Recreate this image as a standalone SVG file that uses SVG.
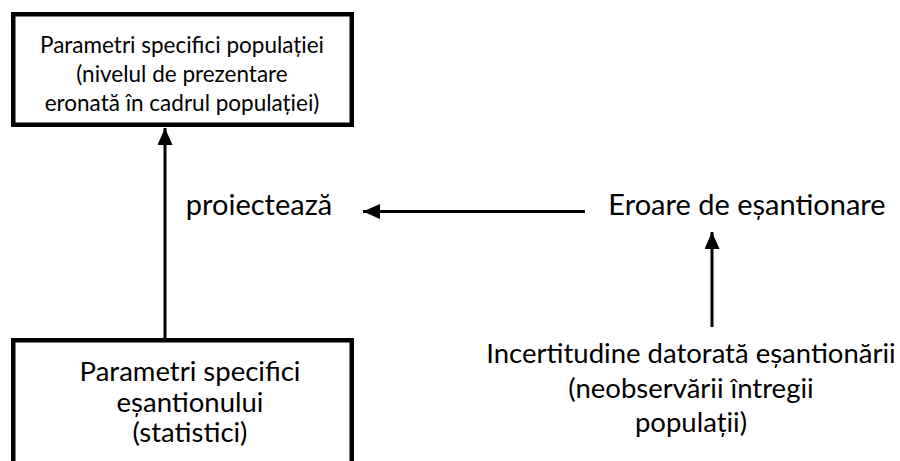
<svg xmlns="http://www.w3.org/2000/svg" width="900" height="461" viewBox="0 0 900 461">
  <style>
    .box { fill: #ffffff; stroke: #000000; stroke-width: 4.5; }
    .t { font-family: Lato, "Open Sans", "Liberation Sans", sans-serif; fill: #000000; text-anchor: middle; }
    .s-top { font-size: 22.5px; }
    .s-mid { font-size: 27.5px; }
    .s-big { font-size: 29px; }
    .edge { stroke: #000000; stroke-width: 3; fill: none; }
  </style>
  <defs>
    <marker id="arrow" viewBox="0 0 17 15" refX="17" refY="7.5" markerWidth="17" markerHeight="15" markerUnits="userSpaceOnUse" orient="auto">
      <path d="M0,0 L17,7.5 L0,15 Z" fill="#000000"/>
    </marker>
  </defs>

  <rect width="900" height="461" fill="#ffffff"/>

  <g id="connectors">
    <line class="edge" x1="165" y1="338" x2="165" y2="128" marker-end="url(#arrow)"/>
    <line class="edge" x1="585" y1="211.5" x2="363" y2="211.5" marker-end="url(#arrow)"/>
    <line class="edge" x1="712" y1="327" x2="712" y2="232" marker-end="url(#arrow)"/>
  </g>

  <g id="population-params">
    <rect class="box" x="13.25" y="14.25" width="338.5" height="110.5"/>
    <text class="t s-top" x="182" y="53">Parametri specifici populației</text>
    <text class="t s-top" x="182" y="82">(nivelul de prezentare</text>
    <text class="t s-top" x="182" y="111">eronată în cadrul populației)</text>
  </g>

  <g id="sample-params">
    <rect class="box" x="13.25" y="340.25" width="338.5" height="140"/>
    <text class="t s-mid" x="190" y="381">Parametri specifici</text>
    <text class="t s-mid" x="190" y="412">eșantionului</text>
    <text class="t s-mid" x="190" y="442">(statistici)</text>
  </g>

  <g id="projects">
    <text class="t s-big" x="259" y="215">proiectează</text>
  </g>

  <g id="sampling-error">
    <text class="t s-big" x="747" y="215">Eroare de eșantionare</text>
  </g>

  <g id="sampling-uncertainty">
    <text class="t s-mid" x="691" y="363">Incertitudine datorată eșantionării</text>
    <text class="t s-mid" x="691" y="398">(neobservării întregii</text>
    <text class="t s-mid" x="691" y="432">populații)</text>
  </g>
</svg>
